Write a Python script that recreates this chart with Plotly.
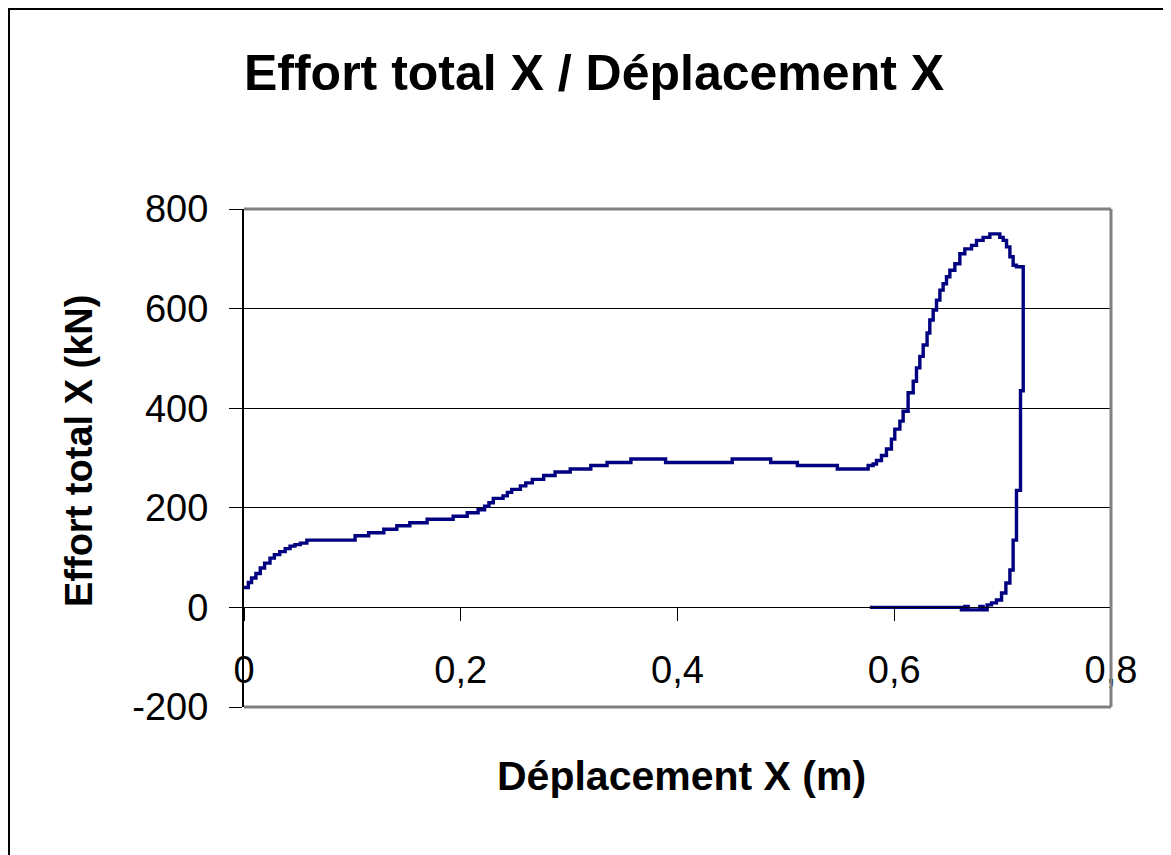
import plotly.graph_objects as go

# Step corners (Déplacement X in m, Effort total X in kN)
deplacement = [
    0.000, 0.004, 0.007, 0.011, 0.015, 0.019, 0.024, 0.028, 0.033, 0.038,
    0.0425, 0.047, 0.052, 0.058, 0.1025, 0.115, 0.129, 0.141, 0.153, 0.169,
    0.193, 0.206, 0.216, 0.222, 0.226, 0.230, 0.239, 0.243, 0.247, 0.255,
    0.260, 0.266, 0.2765, 0.287, 0.301, 0.320, 0.335, 0.357, 0.389, 0.4505,
    0.486, 0.5106, 0.5475, 0.5759, 0.5805, 0.5836, 0.5882, 0.5928, 0.5974, 0.6005,
    0.6052, 0.6082, 0.6128, 0.6175, 0.6205, 0.6236, 0.6267, 0.6303, 0.6328, 0.6359,
    0.6390, 0.6421, 0.6451, 0.6482, 0.6513, 0.6559, 0.6605, 0.6651, 0.6713, 0.6759,
    0.6820, 0.6882, 0.6974, 0.7005, 0.7036, 0.7067, 0.7097, 0.7128, 0.7190, 0.7165,
    0.7128, 0.7097, 0.7067, 0.7030, 0.6990, 0.6943, 0.6897, 0.6857, 0.6820, 0.6790,
    0.6682, 0.6651, 0.6620, 0.5775,
]
effort = [
    40, 50, 59, 68, 79, 89, 99, 106, 112, 118,
    123, 126, 129, 135, 144, 150, 157, 164, 170, 177,
    183, 190, 196, 203, 210, 219, 224, 231, 237, 244,
    250, 257, 265, 272, 278, 285, 291, 298, 291, 298,
    291, 285, 278, 285, 288, 295, 305, 318, 338, 358,
    374, 394, 431, 454, 481, 504, 527, 551, 577, 597,
    617, 637, 650, 664, 677, 690, 710, 720, 727, 737,
    743, 750, 743, 737, 724, 704, 687, 684, 435, 235,
    135, 75, 49, 29, 15, 9, 5, -5, 2, -5,
    2, -5, 0, 0,
]

x_ticks = [0, 0.2, 0.4, 0.6, 0.8]
x_tick_labels = ["0", "0,2", "0,4", "0,6", "0,8"]
y_ticks = [-200, 0, 200, 400, 600, 800]
y_tick_labels = ["-200", "0", "200", "400", "600", "800"]

FONT = "Liberation Sans, Arial, sans-serif"

# page body adds ~8px offset; compensate in margins
OFF = 8
L, T = 244 - OFF, 209 - OFF
PW, PH = 867, 498
W, H = 1171, 855


def px_x(px):
    return (px - OFF - L) / PW


def px_y(py):
    return (T + PH - (py - OFF)) / PH


fig = go.Figure()
fig.add_trace(go.Scatter(
    x=deplacement, y=effort, mode="lines",
    line=dict(color="#000080", width=3.4, shape="hv"),
    showlegend=False, hoverinfo="skip",
))

fig.update_layout(
    width=W, height=H,
    margin=dict(l=L, r=W - L - PW, t=T, b=H - T - PH),
    paper_bgcolor="white", plot_bgcolor="white",
    font=dict(family=FONT, color="black"),
    title=dict(
        text="Effort total X / Déplacement X",
        font=dict(family=FONT, size=50, color="black", weight="bold"),
        xref="container", x=(594 - OFF) / W, xanchor="center",
        yref="container", y=1 - (72 - OFF) / H, yanchor="middle",
    ),
    xaxis=dict(
        range=[0, 0.8], tickvals=x_ticks, ticktext=x_tick_labels,
        anchor="free", position=0.2,
        showgrid=False, zeroline=False,
        showline=True, linecolor="black", linewidth=1,
        ticks="outside", ticklen=13, tickwidth=1, tickcolor="black",
        tickfont=dict(family=FONT, size=38, color="black"),
        ticklabelstandoff=16,
    ),
    yaxis=dict(
        range=[-200, 800], tickvals=y_ticks, ticktext=y_tick_labels,
        showgrid=True, gridcolor="black", gridwidth=1, zeroline=False,
        showline=True, linecolor="black", linewidth=2,
        ticks="outside", ticklen=13, tickwidth=1, tickcolor="black",
        tickfont=dict(family=FONT, size=38, color="black"),
        ticklabelstandoff=13,
    ),
    annotations=[
        dict(text="Effort total X (kN)", textangle=-90,
             xref="paper", yref="paper", x=px_x(79), y=px_y(451),
             xanchor="center", yanchor="middle", showarrow=False,
             font=dict(family=FONT, size=38, color="black", weight="bold")),
        dict(text="Déplacement X (m)",
             xref="paper", yref="paper", x=px_x(681), y=px_y(776),
             xanchor="center", yanchor="middle", showarrow=False,
             font=dict(family=FONT, size=41, color="black", weight="bold")),
    ],
    shapes=[
        # gray plot-area border (top, right, bottom)
        dict(type="line", xref="paper", yref="paper", x0=0, x1=1, y0=1, y1=1,
             line=dict(color="#808080", width=3)),
        dict(type="line", xref="paper", yref="paper", x0=1, x1=1, y0=0, y1=0.2,
             line=dict(color="#808080", width=3)),
        dict(type="line", xref="paper", yref="paper", x0=1, x1=1, y0=0.2, y1=1,
             line=dict(color="#808080", width=3)),
        dict(type="line", xref="paper", yref="paper", x0=0, x1=1, y0=0, y1=0,
             line=dict(color="#808080", width=3)),
        # outer chart-area frame
        dict(type="rect", xref="paper", yref="paper",
             x0=px_x(OFF + 1), x1=1.3, y0=-0.5, y1=px_y(OFF + 1),
             line=dict(color="black", width=2), fillcolor="rgba(0,0,0,0)"),
    ],
)

fig.write_html("out.html", config={"displayModeBar": False})
